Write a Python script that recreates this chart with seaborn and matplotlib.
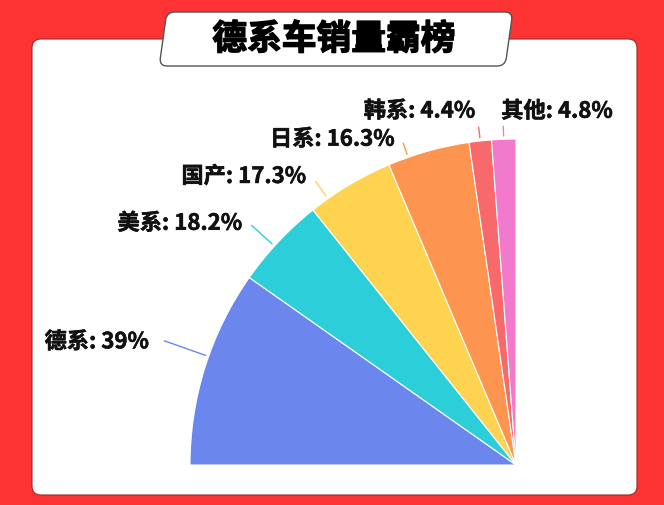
import numpy as np
import matplotlib
matplotlib.use('Agg')
import matplotlib.pyplot as plt
import matplotlib.patheffects as pe
from matplotlib.patches import FancyBboxPatch
from matplotlib.transforms import Affine2D
import seaborn as sns

# data
categories = ['德系', '美系', '国产', '日系', '韩系', '其他']
shares = [39, 18.2, 17.3, 16.3, 4.4, 4.8]
title = '德系车销量霸榜'

# styling
slice_colors = ['#6B87EE', '#2CCFD9', '#FDD350', '#FD9550', '#F7696B', '#F27ACC']
leader_len = [0.144, 0.095, 0.065, 0.046, 0.043, 0.04]
leader_shift = [-1.9, 1.1, 4.5, 3.7, 0.0, 0.0]   # degrees, nudges away from mid angle
label_offset = [(-15, -1), (-9, 2), (-9, 5), (-8, 4), (-3, 16), (-2, 15)]
W, H = 664, 506

sns.set_theme(style='white')
plt.rcParams['font.family'] = ['Noto Sans CJK SC', 'DejaVu Sans']

fig = plt.figure(figsize=(W / 100, H / 100), dpi=100)
fig.patch.set_facecolor('#FE3334')
px = Affine2D().scale(1 / W, 1 / H) + fig.transFigure

# white card
card = FancyBboxPatch((32, H - 496), 605, 456, boxstyle='round,pad=0,rounding_size=9',
                      facecolor='white', edgecolor='#9a2a2a', linewidth=0.8,
                      transform=px, zorder=-2)
fig.patches.append(card)

# slanted title box
tbox = FancyBboxPatch((-173, -27), 346, 54, boxstyle='round,pad=0,rounding_size=8',
                      facecolor='white', edgecolor='#555555', linewidth=1.0, zorder=-1,
                      transform=Affine2D().skew_deg(8, 0).translate(336, H - 40) + px)
fig.patches.append(tbox)
fig.text(334 / W, 1 - 40 / H, title, ha='center', va='center', fontsize=25,
         fontweight='bold', color='black',
         path_effects=[pe.withStroke(linewidth=1.0, foreground='black')])

# quarter pie, centre at the bottom right
ax = fig.add_axes([190 / W, (H - 466) / H, 326 / W, 326 / H])
ax.set_zorder(2)
vals = np.array(shares) / sum(shares) * 0.25
wedges, _ = ax.pie(vals, colors=slice_colors, startangle=180, counterclock=False,
                   normalize=False, radius=1,
                   wedgeprops=dict(edgecolor='white', linewidth=0.8))
ax.set_xlim(-1, 0)
ax.set_ylim(0, 1)
ax.set_aspect('auto')
ax.axis('off')

for i, w in enumerate(wedges):
    mid_deg = (w.theta1 + w.theta2) / 2
    mid = np.deg2rad(mid_deg + leader_shift[i])
    r0, r1 = 1.01, 1 + leader_len[i]
    x0, y0 = r0 * np.cos(mid), r0 * np.sin(mid)
    x1, y1 = r1 * np.cos(mid), r1 * np.sin(mid)
    ax.plot([x0, x1], [y0, y1], color=slice_colors[i], lw=1, clip_on=False)
    ha = 'right' if mid_deg > 93 else 'left'
    ax.annotate(f'{categories[i]}: {shares[i]:g}%', xy=(x1, y1),
                xytext=label_offset[i], textcoords='offset pixels',
                ha=ha, va='center', fontsize=16, fontweight='bold',
                color='#111111', annotation_clip=False,
                path_effects=[pe.withStroke(linewidth=0.4, foreground='#111111')])

fig.savefig('out.png', dpi=100, facecolor=fig.get_facecolor())
